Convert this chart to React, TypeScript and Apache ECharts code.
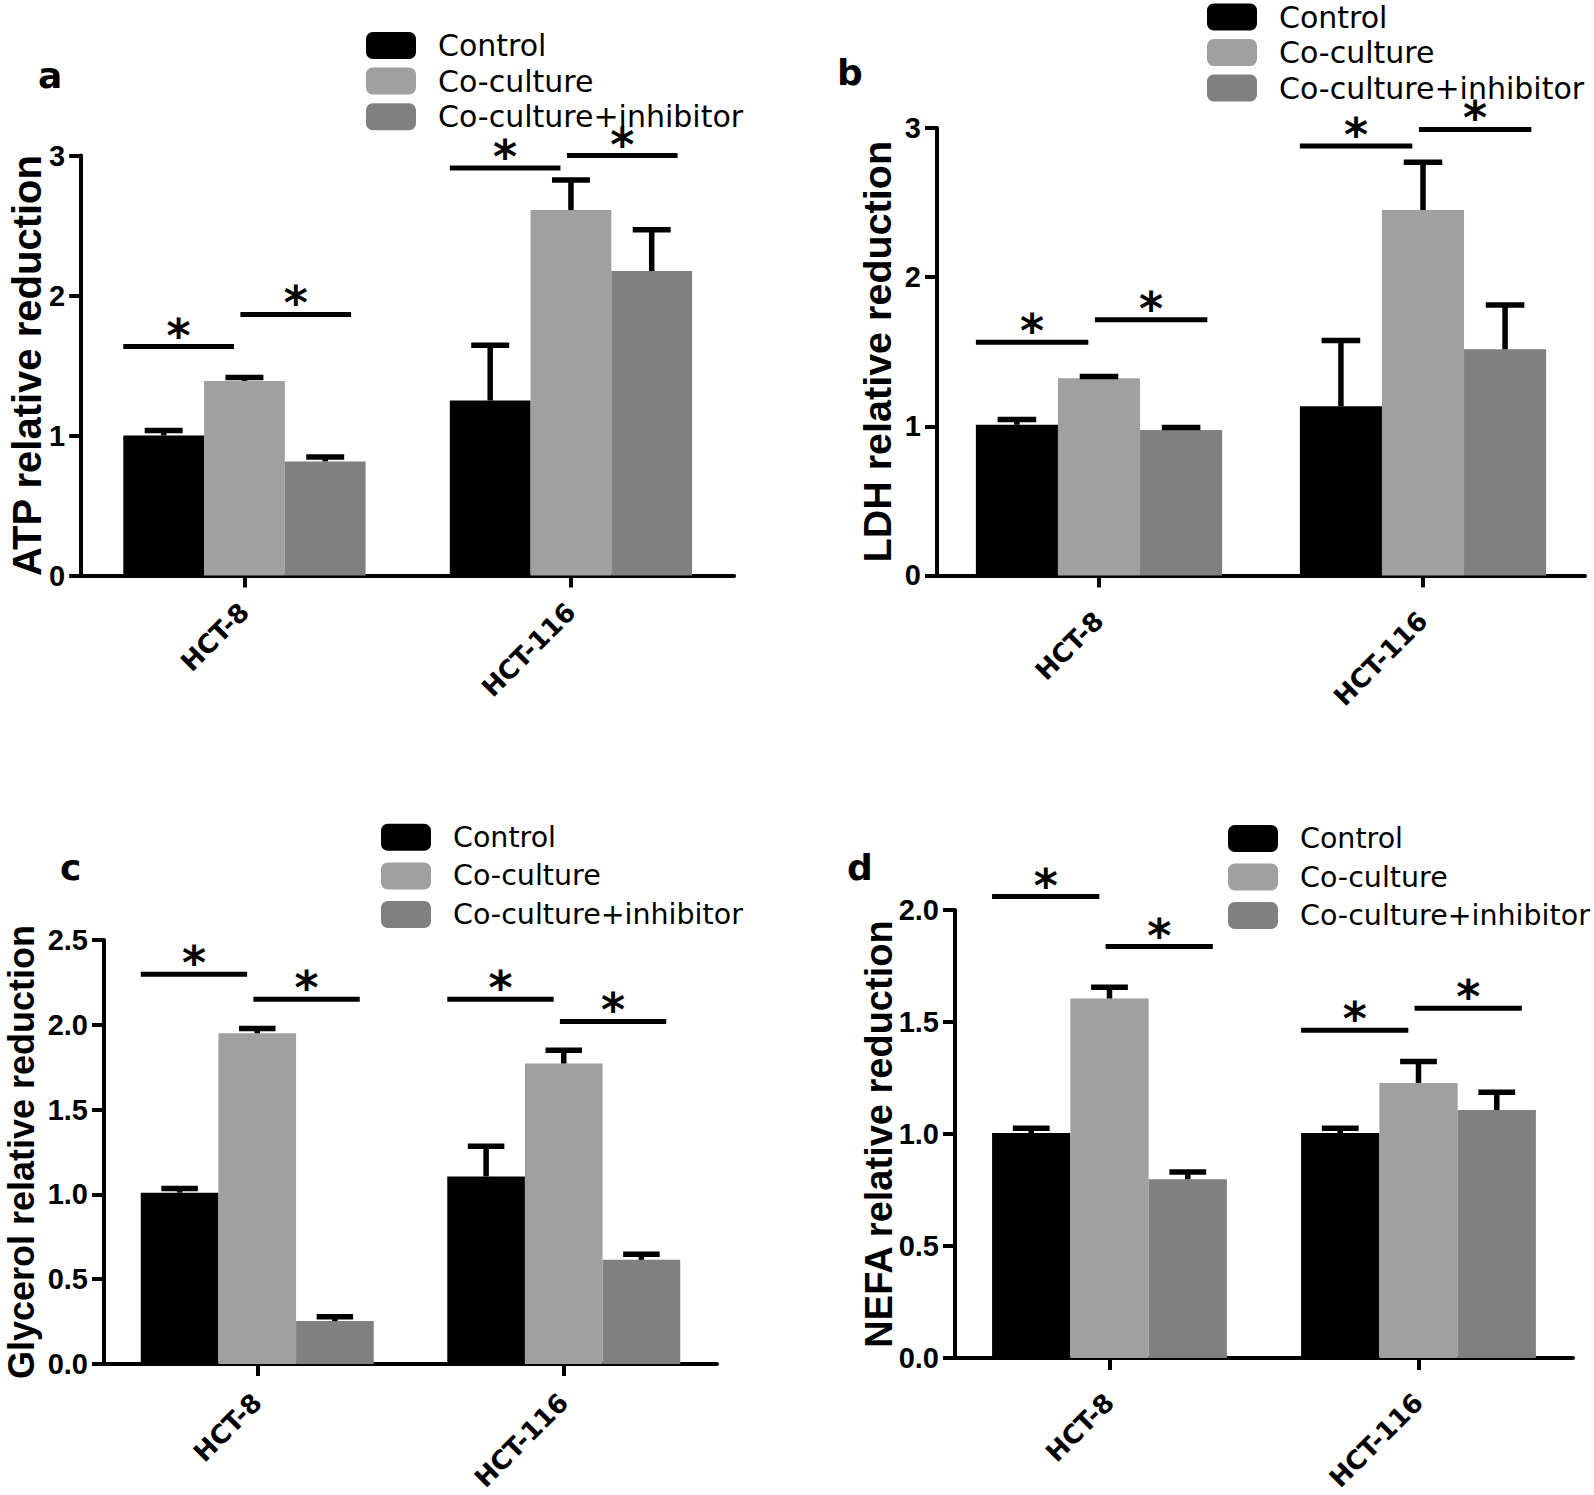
import React, { useEffect, useRef } from "react";
import * as echarts from "echarts";

// ---------- data ----------
const categories = ["HCT-8", "HCT-116"];
const seriesNames = ["Control", "Co-culture", "Co-culture+inhibitor"];

// Panel a — ATP
const atpControl = [1.0, 1.25];
const atpControlErr = [0.035, 0.395];
const atpCoculture = [1.39, 2.61];
const atpCocultureErr = [0.025, 0.215];
const atpInhibitor = [0.815, 2.175];
const atpInhibitorErr = [0.032, 0.295];
// [category index, bracket height, bracket (0 = Control vs Co-culture, 1 = Co-culture vs inhibitor)]
const atpSignif = [[0, 1.635, 0], [0, 1.865, 1], [1, 2.91, 0], [1, 3.0, 1]];

// Panel b — LDH
const ldhControl = [1.01, 1.135];
const ldhControlErr = [0.036, 0.44];
const ldhCoculture = [1.322, 2.45];
const ldhCocultureErr = [0.012, 0.32];
const ldhInhibitor = [0.975, 1.516];
const ldhInhibitorErr = [0.016, 0.297];
const ldhSignif = [[0, 1.563, 0], [0, 1.715, 1], [1, 2.88, 0], [1, 2.99, 1]];

// Panel c — Glycerol
const glyControl = [1.01, 1.106];
const glyControlErr = [0.025, 0.178];
const glyCoculture = [1.95, 1.772];
const glyCocultureErr = [0.028, 0.078];
const glyInhibitor = [0.253, 0.614];
const glyInhibitorErr = [0.025, 0.033];
const glySignif = [[0, 2.298, 0], [0, 2.151, 1], [1, 2.151, 0], [1, 2.02, 1]];

// Panel d — NEFA
const nefaControl = [1.004, 1.004];
const nefaControlErr = [0.022, 0.022];
const nefaCoculture = [1.605, 1.228];
const nefaCocultureErr = [0.05, 0.096];
const nefaInhibitor = [0.798, 1.107];
const nefaInhibitorErr = [0.032, 0.079];
const nefaSignif = [[0, 2.06, 0], [0, 1.837, 1], [1, 1.463, 0], [1, 1.561, 1]];

const panelLetters = ["a", "b", "c", "d"];
const yTitles = [
  "ATP relative reduction",
  "LDH relative reduction",
  "Glycerol relative reduction",
  "NEFA relative reduction",
];
const yMax = [3, 3, 2.5, 2.0];
const yStep = [1, 1, 0.5, 0.5];
const yDecimals = [0, 0, 1, 1];

// ---------- layout / style ----------
const COLORS = ["#000000", "#a0a0a0", "#808080"];
const GAPS = [0.258, 0.24, 0.24, 0.24];
const grids = [
  { left: 81.2, top: 155.5, width: 653, height: 420 },
  { left: 937, top: 128, width: 648, height: 447.4 },
  { left: 104, top: 940, width: 613, height: 424 },
  { left: 955, top: 910, width: 618, height: 448 },
];
const nameGaps = [34.5, 39.6, 65, 56.7];
const nameSizes = [40, 39.5, 36, 38];
const xLabelMargins = [32, 41, 34, 40];
const legendPos = [
  { left: 366, top: 30.5, gap: 5.6, size: 30 },
  { left: 1207, top: 2, gap: 5.5, size: 30 },
  { left: 381, top: 822.7, gap: 9.7, size: 28.5 },
  { left: 1228, top: 824, gap: 9.5, size: 28.5 },
];
const letterPos = [
  { left: 38, top: 57 },
  { left: 837, top: 54 },
  { left: 60, top: 849 },
  { left: 847, top: 849 },
];

const panels = [
  { means: [atpControl, atpCoculture, atpInhibitor], errs: [atpControlErr, atpCocultureErr, atpInhibitorErr], sig: atpSignif },
  { means: [ldhControl, ldhCoculture, ldhInhibitor], errs: [ldhControlErr, ldhCocultureErr, ldhInhibitorErr], sig: ldhSignif },
  { means: [glyControl, glyCoculture, glyInhibitor], errs: [glyControlErr, glyCocultureErr, glyInhibitorErr], sig: glySignif },
  { means: [nefaControl, nefaCoculture, nefaInhibitor], errs: [nefaControlErr, nefaCocultureErr, nefaInhibitorErr], sig: nefaSignif },
];

function errorSeries(p: number, sIdx: number, means: number[], errs: number[]) {
  const gap = GAPS[p];
  return {
    type: "custom",
    xAxisIndex: p,
    yAxisIndex: p,
    clip: false,
    silent: true,
    z: 5,
    data: means.map((m, i) => [i, m, errs[i]]),
    encode: { x: 0, y: 1 },
    renderItem: (params: any, api: any) => {
      const cat = api.value(0);
      const mean = api.value(1);
      const err = api.value(2);
      const band = api.size([1, 0])[0];
      const bw = (band * (1 - gap)) / 3;
      const p0 = api.coord([cat, mean]);
      const p1 = api.coord([cat, mean + err]);
      const cx = p0[0] + (sIdx - 1) * bw;
      const half = bw * 0.235;
      return {
        type: "group",
        children: [
          { type: "line", shape: { x1: cx, y1: p0[1], x2: cx, y2: p1[1] }, style: { stroke: "#000", lineWidth: 5.5 } },
          { type: "line", shape: { x1: cx - half, y1: p1[1], x2: cx + half, y2: p1[1] }, style: { stroke: "#000", lineWidth: 5.5 } },
        ],
      };
    },
  };
}

function signifSeries(p: number, rows: number[][]) {
  const gap = GAPS[p];
  return {
    type: "custom",
    xAxisIndex: p,
    yAxisIndex: p,
    clip: false,
    silent: true,
    z: 5,
    data: rows,
    encode: { x: 0, y: 1 },
    renderItem: (params: any, api: any) => {
      const cat = api.value(0);
      const y = api.value(1);
      const k = api.value(2);
      const band = api.size([1, 0])[0];
      const bw = (band * (1 - gap)) / 3;
      const pt = api.coord([cat, y]);
      const x1 = pt[0] - 1.5 * bw + k * 1.45 * bw;
      const x2 = x1 + 1.37 * bw;
      return {
        type: "group",
        children: [
          { type: "line", shape: { x1, y1: pt[1], x2, y2: pt[1] }, style: { stroke: "#000", lineWidth: 5 } },
          {
            type: "text",
            x: (x1 + x2) / 2,
            y: pt[1] - 11,
            style: {
              text: "*",
              fill: "#000",
              fontSize: 46,
              fontWeight: "bold",
              fontFamily: "DejaVu Sans",
              align: "center",
              verticalAlign: "middle",
            },
          },
        ],
      };
    },
  };
}

function buildOption() {
  const series: any[] = [];
  panels.forEach((pn, p) => {
    pn.means.forEach((vals, s) => {
      series.push({
        type: "bar",
        name: seriesNames[s],
        xAxisIndex: p,
        yAxisIndex: p,
        data: vals,
        barGap: "0%",
        barCategoryGap: GAPS[p] * 100 + "%",
        itemStyle: { color: COLORS[s] },
        z: 2,
      });
    });
    pn.means.forEach((vals, s) => series.push(errorSeries(p, s, vals, pn.errs[s])));
    series.push(signifSeries(p, pn.sig));
  });

  return {
    animation: false,
    backgroundColor: "#ffffff",
    title: panelLetters.map((t, i) => ({
      text: t,
      left: letterPos[i].left,
      top: letterPos[i].top,
      padding: 0,
      textStyle: { fontFamily: "DejaVu Sans", fontWeight: "bold", fontSize: 36, color: "#000" },
    })),
    legend: legendPos.map((l) => ({
      data: seriesNames,
      orient: "vertical",
      left: l.left,
      top: l.top,
      padding: 0,
      itemWidth: 50,
      itemHeight: 27,
      itemGap: l.gap,
      icon: "roundRect",
      selectedMode: false,
      textStyle: {
        fontFamily: "DejaVu Sans",
        fontSize: l.size,
        color: "#000",
        lineHeight: 27,
        padding: [0, 0, 0, 17],
      },
    })),
    grid: grids.map((g) => ({ ...g, containLabel: false, outerBoundsMode: "none" })),
    xAxis: grids.map((g, i) => ({
      type: "category",
      gridIndex: i,
      data: categories,
      axisLine: { show: true, lineStyle: { color: "#000", width: 4 } },
      axisTick: { show: true, alignWithLabel: true, length: 12, lineStyle: { color: "#000", width: 4 } },
      axisLabel: {
        rotate: 45,
        margin: xLabelMargins[i],
        fontFamily: "DejaVu Sans",
        fontWeight: "bold",
        fontSize: 26,
        color: "#000",
      },
      splitLine: { show: false },
    })),
    yAxis: grids.map((g, i) => ({
      type: "value",
      gridIndex: i,
      min: 0,
      max: yMax[i],
      interval: yStep[i],
      name: yTitles[i],
      nameLocation: "middle",
      nameGap: nameGaps[i],
      nameMoveOverlap: false,
      nameTextStyle: { fontFamily: "Liberation Sans", fontWeight: "bold", fontSize: nameSizes[i], color: "#000" },
      axisLine: { show: true, lineStyle: { color: "#000", width: 4 } },
      axisTick: { show: true, length: 12, lineStyle: { color: "#000", width: 4 } },
      axisLabel: {
        margin: 16,
        fontFamily: "Liberation Sans",
        fontWeight: "bold",
        fontSize: 29,
        color: "#000",
        formatter: (v: number) => v.toFixed(yDecimals[i]),
      },
      splitLine: { show: false },
    })),
    series,
  };
}

export default function App() {
  const ref = useRef<HTMLDivElement>(null);
  useEffect(() => {
    document.body.style.margin = "0";
    if (!ref.current) return;
    const chart = echarts.init(ref.current, null, { renderer: "svg" });
    chart.setOption(buildOption() as any);
    return () => chart.dispose();
  }, []);
  return <div ref={ref} style={{ width: 1594, height: 1495 }} />;
}
